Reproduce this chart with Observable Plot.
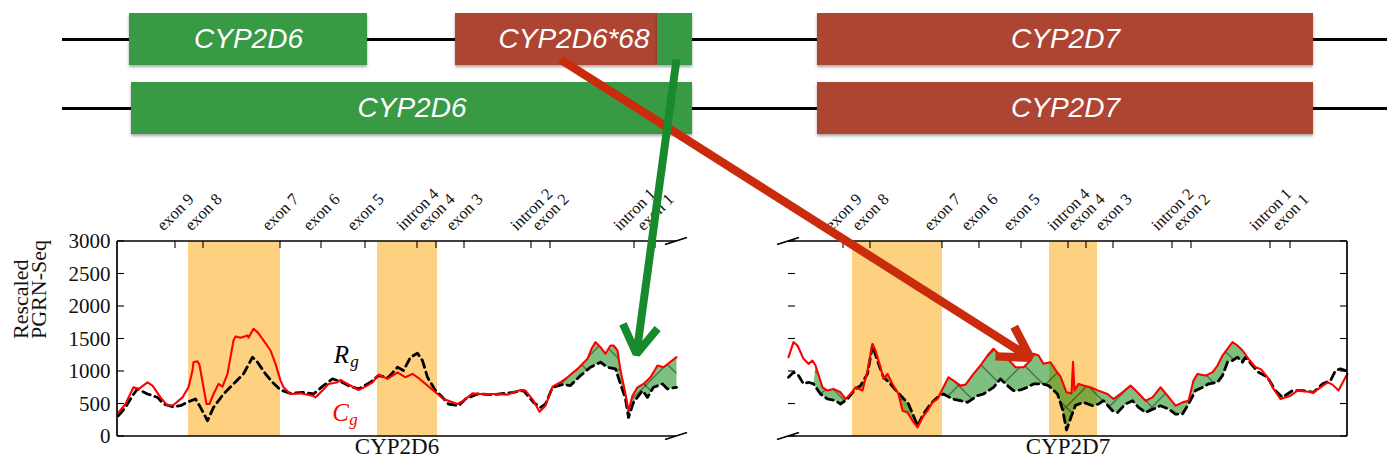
<!DOCTYPE html>
<html><head><meta charset="utf-8">
<script src="https://cdn.jsdelivr.net/npm/d3@7"></script>
<script src="https://cdn.jsdelivr.net/npm/@observablehq/plot@0.6"></script>
<style>
html,body{margin:0;padding:0;background:#fff;}
#fig{position:relative;width:1387px;height:466px;overflow:hidden;background:#fff;}
.diagram rect{filter:drop-shadow(0px 2px 1.5px rgba(0,0,0,0.35));}
</style></head><body><div id="fig"></div>
<script>
// ---------------- DATA ----------------
// Gene diagram (two haplotypes); positions along the locus (diagram units)
const hapRows      = ["1", "2"];
const hapLineStart = [62, 62];
const hapLineEnd   = [1387, 1387];
const geneRow   = ["1", "1", "1", "2", "2"];
const geneLabel = ["CYP2D6", "CYP2D6*68", "CYP2D7", "CYP2D6", "CYP2D7"];
const geneStart = [129, 455, 817, 131, 817];
const geneEnd   = [367, 692, 1313, 692, 1313];
// coloured pieces of each gene box and the gene they derive from
const segRow    = ["1", "1", "1", "1", "2", "2"];
const segStart  = [129, 455, 657, 817, 131, 817];
const segEnd    = [367, 657, 692, 1313, 692, 1313];
const segOrigin = ["CYP2D6", "CYP2D7", "CYP2D6", "CYP2D7", "CYP2D6", "CYP2D7"];

// Panels: feature tick labels and positions (bins along each gene)
const featureLabels = ["exon 9","exon 8","exon 7","exon 6","exon 5","intron 4","exon 4","exon 3","intron 2","exon 2","intron 1","exon 1"];
const cyp2d6FeaturePos = [58, 86, 163, 204, 248, 300, 319, 347, 414, 433, 517, 538];
const cyp2d7FeaturePos = [55, 82, 154, 191, 233, 280, 298, 325, 384, 403, 482, 502];
const cyp2d6BandStart = [71, 260], cyp2d6BandEnd = [163, 320];
const cyp2d7BandStart = [64, 261], cyp2d7BandEnd = [154, 309];
const cyp2d6FillRange = [435, 559];
const cyp2d7FillRange = [25, 457];
const yTicks = [0, 500, 1000, 1500, 2000, 2500, 3000];

// Series: [position, rescaled PGRN-Seq]
const cyp2d6_C = [[1,370],[8,500],[16,757],[21,730],[30,834],[35,783],[43,602],[50,474],[56,485],[65,602],[71,757],[75,1014],[76,1143],[80,1158],[82,1100],[86,757],[89,500],[92,500],[96,654],[101,809],[105,767],[110,963],[116,1478],[118,1540],[123,1519],[130,1555],[131,1520],[136,1658],[140,1606],[146,1478],[153,1323],[158,1118],[163,860],[166,757],[173,654],[183,664],[195,628],[198,602],[205,706],[211,809],[220,834],[223,871],[231,800],[241,716],[248,767],[255,834],[261,953],[270,886],[280,988],[288,911],[295,963],[300,911],[308,809],[318,680],[326,577],[340,500],[346,551],[355,664],[363,654],[376,654],[390,644],[403,716],[408,706],[416,551],[422,381],[428,474],[435,767],[443,834],[450,911],[460,1040],[470,1195],[474,1349],[478,1452],[483,1374],[488,1272],[493,1400],[496,1400],[500,1323],[503,1014],[508,654],[511,397],[515,628],[520,757],[526,809],[533,911],[540,1092],[546,1065],[559,1220]];
const cyp2d6_R = [[1,320],[8,448],[15,628],[20,732],[30,654],[40,602],[46,500],[55,458],[63,474],[71,536],[78,577],[83,448],[90,242],[96,448],[106,654],[116,809],[126,963],[135,1220],[140,1143],[148,963],[155,834],[163,716],[173,664],[185,680],[196,654],[206,783],[215,886],[223,849],[233,767],[241,732],[253,834],[261,937],[271,911],[280,1065],[286,1014],[293,1220],[300,1281],[305,1168],[310,911],[318,706],[325,602],[331,500],[341,474],[348,577],[360,654],[376,644],[396,680],[406,706],[416,525],[423,448],[428,500],[435,757],[445,798],[453,783],[463,937],[473,1065],[483,1143],[490,1065],[498,1040],[503,809],[508,577],[511,293],[516,525],[525,706],[530,602],[536,757],[545,809],[550,732],[559,757]];
const cyp2d7_C = [[0,1220],[5,1452],[9,1400],[15,1195],[20,1118],[24,1168],[27,1092],[34,757],[39,706],[45,732],[52,680],[57,577],[62,654],[67,757],[74,706],[79,1014],[84,1427],[87,1323],[92,1065],[95,886],[99,963],[104,809],[110,654],[114,397],[119,370],[124,242],[129,139],[134,293],[139,397],[144,525],[149,577],[154,732],[160,911],[165,860],[172,783],[177,798],[185,963],[192,1092],[199,1246],[205,1349],[210,1272],[219,1195],[227,1065],[235,1065],[242,1168],[245,1272],[250,1246],[255,1118],[262,1143],[268,1000],[272,920],[278,680],[283,660],[284.5,1150],[286,710],[290,809],[295,783],[302,757],[310,706],[319,654],[325,577],[334,680],[342,783],[349,680],[357,551],[364,602],[372,757],[379,628],[387,474],[394,525],[400,551],[405,860],[409,963],[417,937],[424,988],[429,1092],[434,1246],[439,1349],[444,1452],[449,1400],[454,1323],[460,1195],[467,1065],[472,1040],[479,911],[485,732],[492,577],[502,628],[509,706],[515,695],[525,680],[532,757],[539,834],[544,798],[550,706],[557,911],[559,960]];
const cyp2d7_R = [[0,911],[5,988],[10,937],[15,809],[20,834],[25,809],[32,654],[39,577],[47,551],[52,500],[59,577],[67,732],[72,783],[79,963],[84,1400],[90,1118],[95,911],[102,809],[109,680],[114,602],[120,500],[125,319],[129,165],[135,345],[142,500],[149,602],[155,654],[164,577],[172,551],[179,525],[189,628],[195,654],[205,757],[212,886],[219,783],[225,706],[232,716],[239,757],[245,809],[254,809],[260,783],[269,654],[274,420],[278,100],[283,320],[287,479],[295,525],[304,474],[310,500],[315,551],[324,397],[329,370],[337,500],[344,551],[350,448],[357,370],[365,423],[372,474],[380,423],[387,345],[394,345],[400,500],[407,706],[414,757],[420,809],[429,834],[434,937],[439,1143],[444,1168],[449,1220],[454,1143],[457,1220],[464,1092],[470,988],[479,911],[487,706],[494,602],[504,706],[515,706],[525,680],[534,809],[542,860],[547,1014],[552,1040],[557,1014],[559,1000]];

// Series labels (left panel)
const seriesLabels = ["R", "C"];
const seriesLabelPos = [224, 223];
const seriesLabelValue = [1261, 363];

// Arrows: from haplotype-1 diagram position to a panel position/value
const arrowFromPos = [676, 560];
const arrowToPanel = ["CYP2D6", "CYP2D7"];
const arrowToPos = [519, 242];
const arrowToValue = [1270, 1210];

// ---------------- STYLE ----------------
const SERIF = "'Liberation Serif','Times New Roman',serif";
const SANS = "'Liberation Sans',Arial,sans-serif";
const GREEN = "#389a44", BRICK = "#ae4432", ORANGE = "#fdd17f";
const ARROW_GREEN = "#178b2c", ARROW_RED = "#c92b0c";
const fig = document.getElementById("fig");
function place(el, left, top) {
  el.style.position = "absolute"; el.style.left = left + "px"; el.style.top = top + "px";
  el.style.maxWidth = "none"; fig.appendChild(el); return el;
}

// ---------------- DIAGRAM ----------------
const hapLines = hapRows.map((r, i) => ({row: r, start: hapLineStart[i], end: hapLineEnd[i]}));
const genes = geneLabel.map((g, i) => ({row: geneRow[i], label: g, start: geneStart[i], end: geneEnd[i]}));
const segs = segRow.map((r, i) => ({row: r, start: segStart[i], end: segEnd[i], origin: segOrigin[i]}));

const diagram = Plot.plot({
  width: 1387, height: 150, margin: 0,
  style: {background: "transparent", overflow: "visible"},
  x: {domain: [0, 1387], range: [0, 1387], axis: null},
  y: {type: "band", domain: hapRows, range: [13, 134], paddingInner: 0.25, paddingOuter: 0, axis: null},
  color: {domain: ["CYP2D6", "CYP2D7"], range: [GREEN, BRICK]},
  marks: [
    Plot.ruleY(hapLines, {y: "row", x1: "start", x2: "end", stroke: "#000", strokeWidth: 3}),
    Plot.barX(segs, {y: "row", x1: "start", x2: "end", fill: "origin"}),
    Plot.text(genes, {y: "row", x: d => (d.start + d.end) / 2, text: "label", fill: "white",
      fontSize: 28, fontStyle: "italic", fontFamily: SANS})
  ]
});
diagram.classList.add("diagram");
place(diagram, 0, 0);

// ---------------- PANELS ----------------
const LABEL_FS = 16.5;
const measureCtx = document.createElement("canvas").getContext("2d");
measureCtx.font = LABEL_FS + "px 'Liberation Serif'";

function panelFrame(kind, featurePos) {
  return (index, scales, values, dims) => {
    const x = scales.x, y = scales.y;
    const L = dims.marginLeft, Rt = dims.width - dims.marginRight;
    const T = dims.marginTop, B = dims.height - dims.marginBottom;
    const g = d3.create("svg:g").attr("fill", "none").attr("stroke", "#000");
    const line = (x1, y1, x2, y2, w) => g.append("line").attr("x1", x1).attr("y1", y1).attr("x2", x2).attr("y2", y2).attr("stroke-width", w);
    line(L, T, Rt, T, 1.7); line(L, B, Rt, B, 1.7);
    const slashX = kind === "left" ? Rt : L;
    for (const cy of [T, B]) line(slashX - 11, cy + 3.5, slashX + 11, cy - 3.5, 1.7);
    if (kind === "left") line(L, T, L, B, 1.7); else line(Rt, T, Rt, B, 1.7);
    for (const v of yTicks) {
      const yy = y(v);
      line(L, yy, L + 7, yy, 1.1);
      if (kind === "right") line(Rt, yy, Rt - 7, yy, 1.1);
    }
    for (const p of featurePos) line(x(p), T, x(p), T + 7, 1.1);
    return g.node();
  };
}
function hatchDefs(id) {
  return () => {
    const g = d3.create("svg:g");
    const pat = g.append("defs").append("pattern").attr("id", id)
      .attr("patternUnits", "userSpaceOnUse").attr("width", 43).attr("height", 43);
    pat.append("path").attr("d", "M0,0L43,43M43,0L0,43").attr("stroke", "#000")
      .attr("stroke-width", 0.9).attr("stroke-opacity", 0.9).attr("fill", "none");
    return g.node();
  };
}

function makePanel(cfg) {
  const {C, R, featurePos, bandStart, bandEnd, fillRange, kind, id, xLabel, width, marginLeft, marginRight} = cfg;
  const inFill = d => d[0] >= fillRange[0] && d[0] <= fillRange[1];
  const poly = [...C.filter(inFill), ...R.filter(inFill).reverse()];
  const bands = bandStart.map((s, i) => ({s, e: bandEnd[i]}));
  const labelMarks = featureLabels.map((lab, i) => {
    const w = measureCtx.measureText(lab).width, h = LABEL_FS * 0.8;
    const half = (w + h) / (2 * Math.SQRT2);
    return Plot.text([{lab, pos: featurePos[i]}], {x: "pos", text: "lab", frameAnchor: "top",
      rotate: -45, textAnchor: "middle", lineAnchor: "middle", dy: -(9 + half), fontSize: LABEL_FS, fill: "#111"});
  });
  const marks = [
    hatchDefs(id),
    Plot.rect(bands, {x1: "s", x2: "e", fill: ORANGE}),
    Plot.line(poly, {x: d => d[0], y: d => d[1], fill: "#008000", fillOpacity: 0.5, stroke: "none"}),
    Plot.line(poly, {x: d => d[0], y: d => d[1], fill: `url(#${id})`, stroke: "none"}),
    Plot.line(R, {x: d => d[0], y: d => d[1], stroke: "#000", strokeWidth: 2.8, strokeDasharray: "8,5"}),
    Plot.line(C, {x: d => d[0], y: d => d[1], stroke: "#ff0000", strokeWidth: 2.1}),
    panelFrame(kind, featurePos),
    ...labelMarks,
    Plot.text([xLabel], {frameAnchor: "bottom", dy: 17, text: d => d, fontSize: 23, fill: "#111"})
  ];
  if (kind === "left") {
    marks.push(
      Plot.text(yTicks, {y: d => d, text: d => String(d), frameAnchor: "left", dx: -7, textAnchor: "end", fontSize: 21, fill: "#111"}),
      Plot.text(["Rescaled\nPGRN-Seq"], {text: d => d, frameAnchor: "left", dx: -86, rotate: -90, fontSize: 22, lineHeight: 0.82, fill: "#111"}),
      Plot.text(seriesLabels.map((s, i) => ({s, x: seriesLabelPos[i], v: seriesLabelValue[i]})),
        {x: "x", y: "v", text: "s", fontSize: 25, fontStyle: "italic", fill: d => d.s === "R" ? "#000" : "#ff0000"}),
      Plot.text(seriesLabels.map((s, i) => ({s, x: seriesLabelPos[i], v: seriesLabelValue[i]})),
        {x: "x", y: "v", text: () => "g", dx: 13, dy: 7, fontSize: 17, fontStyle: "italic", fill: d => d.s === "R" ? "#000" : "#ff0000"})
    );
  }
  return Plot.plot({
    width, height: 296, marginLeft, marginRight, marginTop: 71, marginBottom: 30,
    style: {fontFamily: SERIF, background: "transparent", overflow: "visible"},
    x: {domain: [0, 559], axis: null},
    y: {domain: [0, 3000], axis: null},
    color: {type: "identity"},
    marks
  });
}

const PANEL_TOP = 170;
const leftPanel = makePanel({C: cyp2d6_C, R: cyp2d6_R, featurePos: cyp2d6FeaturePos, bandStart: cyp2d6BandStart, bandEnd: cyp2d6BandEnd,
  fillRange: cyp2d6FillRange, kind: "left", id: "hatch6", xLabel: "CYP2D6", width: 700, marginLeft: 117, marginRight: 24});
const rightPanel = makePanel({C: cyp2d7_C, R: cyp2d7_R, featurePos: cyp2d7FeaturePos, bandStart: cyp2d7BandStart, bandEnd: cyp2d7BandEnd,
  fillRange: cyp2d7FillRange, kind: "right", id: "hatch7", xLabel: "CYP2D7", width: 687, marginLeft: 88, marginRight: 40});
place(leftPanel, 0, PANEL_TOP);
place(rightPanel, 700, PANEL_TOP);

// ---------------- ARROWS ----------------
const dX = diagram.scale("x"), dY = diagram.scale("y");
const panels = {CYP2D6: {plot: leftPanel, left: 0}, CYP2D7: {plot: rightPanel, left: 700}};
const arrows = arrowFromPos.map((p, i) => {
  const P = panels[arrowToPanel[i]];
  return {
    x1: dX.apply(p), y1: dY.apply("1") + dY.bandwidth - 6,
    x2: P.left + P.plot.scale("x").apply(arrowToPos[i]),
    y2: PANEL_TOP + P.plot.scale("y").apply(arrowToValue[i])
  };
});
const overlay = Plot.plot({
  width: 1387, height: 466, margin: 0,
  style: {background: "transparent", overflow: "visible"},
  x: {type: "identity", axis: null}, y: {type: "identity", axis: null},
  marks: [
    Plot.arrow([arrows[1]], {x1: "x1", y1: "y1", x2: "x2", y2: "y2", stroke: ARROW_RED, strokeWidth: 8.5, headLength: 6.2, headAngle: 60, strokeLinecap: "butt", strokeLinejoin: "miter"}),
    Plot.arrow([arrows[0]], {x1: "x1", y1: "y1", x2: "x2", y2: "y2", stroke: ARROW_GREEN, strokeWidth: 8, headLength: 6.2, headAngle: 64, strokeLinecap: "butt", strokeLinejoin: "miter"})
  ]
});
overlay.style.pointerEvents = "none";
place(overlay, 0, 0);
</script></body></html>
